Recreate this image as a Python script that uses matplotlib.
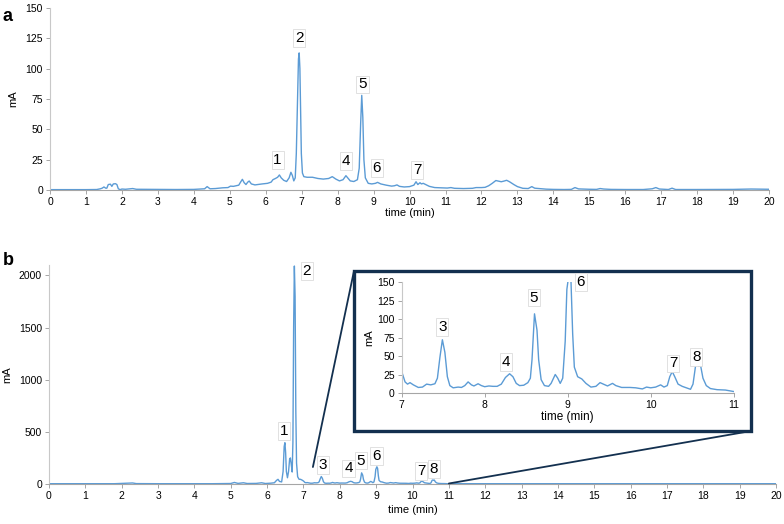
import matplotlib
matplotlib.use("Agg")
import matplotlib.pyplot as plt
from matplotlib.patches import Rectangle, ConnectionPatch

plt.rcParams['font.family'] = ['Liberation Sans', 'DejaVu Sans']

# ---------------- data: panel a ----------------
t_a = [0.0, 0.5, 1.0, 1.3, 1.4, 1.45, 1.5, 1.55, 1.58, 1.62, 1.68, 1.72, 1.76, 1.82, 1.86, 1.9, 1.95,
       2.0, 2.1, 2.3, 2.4, 2.8, 3.0, 3.5, 4.0, 4.3, 4.37, 4.45, 4.6, 4.8, 4.95, 5.02, 5.1, 5.25, 5.3,
       5.35, 5.4, 5.45, 5.5, 5.54, 5.6, 5.7, 5.9, 6.05, 6.15, 6.2, 6.27, 6.33, 6.38, 6.43, 6.5, 6.58,
       6.65, 6.7, 6.74, 6.78, 6.82, 6.85, 6.88, 6.91, 6.93, 6.95, 6.97, 6.99, 7.02, 7.06, 7.15, 7.3,
       7.45, 7.6, 7.75, 7.85, 7.95, 8.05, 8.15, 8.23, 8.28, 8.35, 8.45, 8.55, 8.6, 8.64, 8.67, 8.7,
       8.73, 8.77, 8.85, 8.95, 9.05, 9.11, 9.2, 9.35, 9.5, 9.58, 9.65, 9.72, 9.85, 10.0, 10.12, 10.18,
       10.23, 10.29, 10.33, 10.38, 10.45, 10.55, 10.7, 10.9, 11.05, 11.15, 11.25, 11.5, 11.75, 11.85,
       12.0, 12.1, 12.2, 12.3, 12.4, 12.48, 12.55, 12.62, 12.7, 12.78, 12.9, 13.0, 13.15, 13.3, 13.4,
       13.48, 13.6, 13.8, 14.0, 14.3, 14.5, 14.6, 14.7, 15.0, 15.2, 15.3, 15.4, 15.6, 16.0, 16.5,
       16.75, 16.85, 16.95, 17.2, 17.3, 17.4, 18.0, 19.0, 19.5, 20.0]
s_a = [0.3, 0.3, 0.3, 0.4, 1.0, 1.5, 2.5, 1.5, 1.5, 4.5, 4.8, 3.0, 5.0, 5.2, 4.5, 1.0, 0.3,
       0.8, 0.6, 1.2, 0.6, 0.5, 0.4, 0.4, 0.5, 1.0, 2.8, 1.0, 1.2, 1.8, 2.0, 3.2, 3.0, 4.0, 6.5,
       8.8, 6.0, 4.5, 6.5, 7.4, 5.0, 4.2, 5.0, 5.5, 6.5, 8.5, 9.5, 10.5, 12.4, 10.0, 8.0, 7.0,
       10.0, 14.6, 12.0, 7.5, 10.0, 30.0, 70.0, 108.0, 113.0, 100.0, 65.0, 30.0, 14.0, 11.0, 10.5, 10.5,
       9.5, 9.0, 9.5, 11.0, 9.0, 7.5, 8.5, 11.8, 10.0, 7.5, 7.0, 8.5, 18.0, 55.0, 78.0, 60.0,
       25.0, 10.0, 5.5, 5.0, 5.5, 6.3, 5.0, 4.0, 3.2, 3.5, 4.2, 3.0, 2.5, 2.8, 4.0, 6.8,
       4.5, 6.0, 5.0, 5.5, 4.5, 3.0, 2.0, 1.8, 1.6, 2.0, 1.4, 1.2, 1.4, 2.0,
       2.0, 2.2, 3.5, 5.5, 7.8, 7.3, 6.8, 7.3, 8.0, 6.8, 4.5, 2.8, 1.4, 1.2, 2.8,
       1.5, 1.2, 0.7, 0.5, 0.4, 0.5, 2.0, 0.9, 0.6, 0.5, 1.2, 0.8, 0.5, 0.4, 0.4,
       1.0, 2.0, 0.8, 0.4, 1.5, 0.4, 0.4, 0.5, 0.8, 0.6]
labels_a = ['1', '2', '4', '5', '6', '7']
label_x_a = [6.33, 6.93, 8.23, 8.69, 9.09, 10.22]
label_y_a = [24.7, 125.5, 24.0, 87.0, 18.4, 16.5]

# ---------------- data: panel b ----------------
t_b = [0.0, 1.0, 1.5, 1.8, 2.3, 2.4, 3.0, 4.0, 4.5, 5.0, 5.1, 5.2, 5.35, 5.45, 5.7, 5.85, 5.95,
       6.1, 6.2, 6.26, 6.3, 6.34, 6.4, 6.44, 6.47, 6.49, 6.51, 6.53, 6.56, 6.59, 6.62, 6.64, 6.66,
       6.69, 6.71, 6.73, 6.75, 6.77, 6.79, 6.81, 6.84, 6.88, 6.92, 6.96,
       7.0, 7.04, 7.07, 7.1, 7.14, 7.2, 7.25, 7.3, 7.35, 7.4, 7.43, 7.46, 7.49, 7.52, 7.55, 7.58,
       7.62, 7.68, 7.72, 7.76, 7.8, 7.84, 7.87, 7.92, 7.96, 8.0, 8.05, 8.1, 8.15, 8.2, 8.25, 8.3,
       8.34, 8.38, 8.42, 8.47, 8.52, 8.55, 8.57, 8.6, 8.63, 8.65, 8.68, 8.72, 8.77, 8.8, 8.85, 8.88,
       8.91, 8.94, 8.97, 8.99, 9.02, 9.04, 9.06, 9.08, 9.12, 9.17, 9.22, 9.28, 9.34, 9.39, 9.43,
       9.48, 9.54, 9.58, 9.65, 9.75, 9.82, 9.9, 9.95, 10.0, 10.06, 10.12, 10.16, 10.2, 10.23, 10.26,
       10.29, 10.33, 10.38, 10.43, 10.48, 10.51, 10.54, 10.56, 10.58, 10.6, 10.63, 10.67, 10.72,
       10.8, 10.9, 11.0, 11.2, 12.0, 13.0, 14.0, 15.0, 16.0, 17.0, 18.0, 19.0, 20.0]
s_b = [3, 3, 4, 3, 10, 4, 3, 3, 3, 5, 15, 6, 12, 5, 6, 12, 5,
       8, 12, 35, 45, 25, 20, 120, 360, 396, 300, 120, 60, 120, 240, 250, 200,
       115, 400, 1500, 2090, 1800, 700, 200, 70, 45, 45, 38,
       29, 15, 12, 14, 11, 7.5, 8, 12, 11, 12.5, 20, 48, 72, 55, 22, 10,
       7, 8, 7.5, 10, 15, 11, 9.5, 12.5, 10, 8.5, 9.5, 9, 9, 12, 21, 26,
       22, 13, 10, 10.5, 14, 20, 45, 107, 85, 45, 18, 10, 9, 13, 25, 20,
       13, 20, 70, 140, 165, 150, 80, 35, 22, 19, 13, 8, 9, 14, 12,
       9.5, 13, 10, 7.5, 7.5, 7, 5.5, 8, 7, 8, 11, 8, 10, 22, 29,
       22, 12, 9, 7, 5, 12, 36, 38.5, 36, 38, 20, 10, 6,
       4.5, 4, 2, 3, 3, 3, 3, 3, 3, 3, 3, 3, 3]
labels_b = ['1', '2', '3', '4', '5', '6', '7', '8']
label_x_b = [6.47, 7.09, 7.53, 8.24, 8.58, 9.01, 10.24, 10.59]
label_y_b = [509, 2044, 182, 150, 224, 269, 128, 144]

labels_in = ['3', '4', '5', '6', '7', '8']
label_x_in = [7.49, 8.26, 8.59, 9.16, 10.27, 10.55]
label_y_in = [89.6, 42.3, 129, 150, 40, 49]

xticks_main = list(range(0, 21))
yticks_a = [0, 25, 50, 75, 100, 125, 150]
yticks_b = [0, 500, 1000, 1500, 2000]
xticks_in = [7, 8, 9, 10, 11]
yticks_in = [0, 25, 50, 75, 100, 125, 150]

LINE = '#5b9bd5'
NAVY = '#13304f'
box = dict(boxstyle='square,pad=0.12', facecolor='white', edgecolor='#dcdcdc', linewidth=0.6)

fig = plt.figure(figsize=(7.84, 5.24), dpi=100)


def style(ax, fs=7.5):
    for s in ['top', 'right']:
        ax.spines[s].set_visible(False)
    ax.spines['left'].set_color('#c8c8c8')
    ax.spines['bottom'].set_color('#a6a6a6')
    ax.spines['left'].set_linewidth(0.8)
    ax.spines['bottom'].set_linewidth(0.8)
    ax.tick_params(axis='both', labelsize=fs, length=3, width=0.7, color='#a6a6a6', pad=2)


# panel a
ax_a = fig.add_axes([0.0638, 0.6374, 0.9172, 0.3473])
ax_a.plot(t_a, s_a, color=LINE, lw=1.0)
ax_a.set_xlim(0, 20)
ax_a.set_ylim(0, 150)
ax_a.set_xticks(xticks_main)
ax_a.set_yticks(yticks_a)
style(ax_a)
ax_a.set_xlabel('time (min)', fontsize=8, labelpad=1)
ax_a.set_ylabel('mA', fontsize=8, labelpad=5)
for lab, x, y in zip(labels_a, label_x_a, label_y_a):
    ax_a.text(x, y, lab, fontsize=11, ha='center', va='center', bbox=box)
fig.text(0.003, 0.985, 'a', fontsize=13, fontweight='bold', va='top', ha='left')

# panel b
ax_b = fig.add_axes([0.0625, 0.0763, 0.9273, 0.4180])
ax_b.plot(t_b, s_b, color=LINE, lw=1.0)
ax_b.set_xlim(0, 20)
ax_b.set_ylim(0, 2100)
ax_b.set_xticks(xticks_main)
ax_b.set_yticks(yticks_b)
style(ax_b)
ax_b.set_xlabel('time (min)', fontsize=8, labelpad=3)
ax_b.set_ylabel('mA', fontsize=8, labelpad=5)
for lab, x, y in zip(labels_b, label_x_b, label_y_b):
    ax_b.text(x, y, lab, fontsize=11, ha='center', va='center', bbox=box)
fig.text(0.003, 0.52, 'b', fontsize=13, fontweight='bold', va='top', ha='left')

# inset frame
fx0, fy0, fx1, fy1 = 0.4515, 0.1775, 0.958, 0.4828
rect = Rectangle((fx0, fy0), fx1 - fx0, fy1 - fy0, transform=fig.transFigure,
                 facecolor='white', edgecolor=NAVY, linewidth=2.4, zorder=3)
fig.add_artist(rect)

for xyA, xyB in [((7.26, 163), (fx0, fy1)), ((11.0, 5), (fx1, fy0))]:
    con = ConnectionPatch(xyA=xyA, coordsA=ax_b.transData, xyB=xyB, coordsB=fig.transFigure,
                          color=NAVY, lw=1.3, zorder=2)
    fig.add_artist(con)

ax_in = fig.add_axes([0.5124, 0.25, 0.4234, 0.2118], zorder=4)
ax_in.patch.set_alpha(0)
ax_in.plot(t_b, s_b, color=LINE, lw=1.0)
ax_in.set_xlim(7, 11)
ax_in.set_ylim(0, 150)
ax_in.set_xticks(xticks_in)
ax_in.set_yticks(yticks_in)
style(ax_in)
ax_in.set_xlabel('time (min)', fontsize=8.5, labelpad=1)
ax_in.set_ylabel('mA', fontsize=8, labelpad=2)
for lab, x, y in zip(labels_in, label_x_in, label_y_in):
    ax_in.text(x, y, lab, fontsize=11, ha='center', va='center', bbox=box, clip_on=False)

fig.savefig('out.png', dpi=100)
